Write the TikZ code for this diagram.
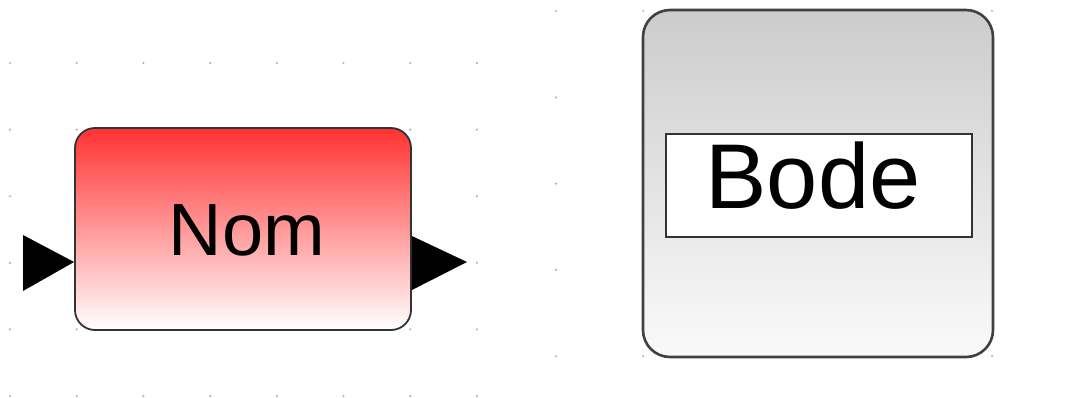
\documentclass[tikz,border=0pt]{standalone}
\usepackage{fontspec}
\setmainfont{Liberation Sans}
\begin{document}
\begin{tikzpicture}[x=1pt,y=-1pt,
  griddot/.style={fill=black!30},
  nombox/.style={draw=black!80, line width=1.8pt, rounded corners=20pt,
    top color={rgb,255:red,255;green,50;blue,50}, bottom color=white,
    minimum width=336pt, minimum height=202pt, inner sep=0pt},
  bodebox/.style={draw=black!75, line width=2.6pt, rounded corners=27pt,
    top color=black!20, bottom color=black!2,
    minimum width=350pt, minimum height=347pt, inner sep=0pt},
  labelbox/.style={draw=black!80, line width=1.6pt, fill=white,
    minimum width=306pt, minimum height=103pt, inner sep=0pt},
  port/.style={fill=black}]
\useasboundingbox (0,0) rectangle (1072,397);
% background dot grids
\foreach \i in {0,...,7}{
  \foreach \j in {0,...,5}{
    \fill[griddot] ({10+66.7*\i},{63+66.6*\j}) circle (1.2pt);
  }
}
\foreach \i in {0,...,5}{
  \foreach \j in {0,...,4}{
    \fill[griddot] ({556+87.2*\i},{11+86.3*\j}) circle (1.2pt);
  }
}
% Nom block
\node[nombox] (nom) at (243,229) {};
\node[anchor=base, font=\fontsize{74}{78}\selectfont, inner sep=0pt] (nomtext) at (247,255) {Nom};
\coordinate (inA) at (23,235);
\coordinate (inB) at (23,291);
\coordinate (outA) at (nom.east |- 0,236);
\coordinate (outB) at (nom.east |- 0,290);
\coordinate (outTip) at (467,262);
\fill[port] (inA) -- (nom.west |- 0,262) -- (inB) -- cycle;
\fill[port] (outA) -- (outTip) -- (outB) -- cycle;
% Bode block
\node[bodebox] (bode) at (818,183.5) {};
\node[labelbox] (bodelabel) at (819,185.5) {};
\node[anchor=base, font=\fontsize{92}{96}\selectfont, inner sep=0pt] (bodetext) at (813,208) {Bode};
\end{tikzpicture}
\end{document}
